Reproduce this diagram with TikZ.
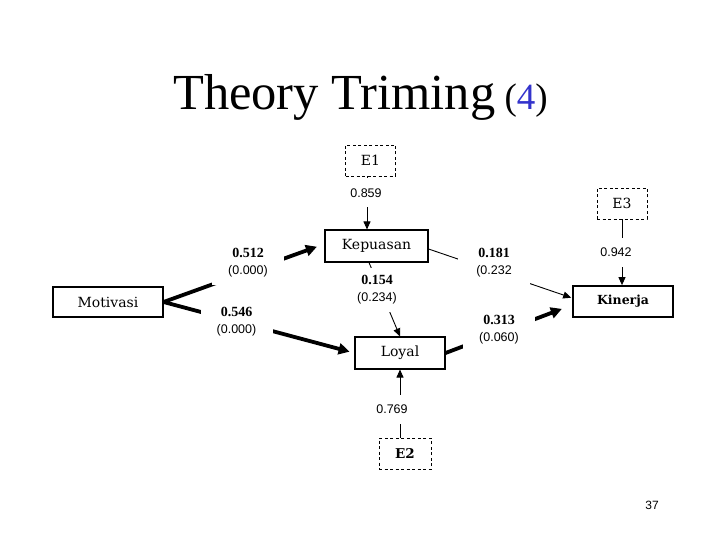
\documentclass[tikz,border=0pt]{standalone}
\usepackage{fontspec}
\setmainfont{Liberation Serif}
\newfontfamily\boxfont{DejaVu Serif}
\newfontfamily\numfont{Liberation Sans}
\usetikzlibrary{arrows.meta,calc}
\definecolor{titleblue}{RGB}{51,51,204}
\newcommand{\cfb}[2]{{\rmfamily\bfseries\fontsize{14}{17}\selectfont #1}\\#2}
\begin{document}
\begin{tikzpicture}[x=1pt,y=-1pt,
  box/.style={draw, line width=1.1pt, inner sep=0pt, font=\boxfont\fontsize{14}{16}\selectfont},
  errbox/.style={draw, dash pattern=on 3pt off 2.5pt, line width=0.9pt, inner sep=0pt, minimum width=50pt, minimum height=31pt, font=\boxfont\fontsize{14}{16}\selectfont},
  coeflab/.style={fill=white, inner sep=0pt, minimum width=72pt, minimum height=44pt, align=center, font=\numfont\fontsize{12.5}{17}\selectfont},
  errlab/.style={fill=white, inner sep=0pt, minimum width=40pt, minimum height=29pt, font=\numfont\fontsize{12.5}{14}\selectfont},
  thinarrow/.style={line width=0.9pt, -{Triangle[length=8pt,width=7pt]}},
  thickarrow/.style={line width=3.8pt, -{Triangle[length=11pt,width=11pt]}},
]
\fill[white] (0,0) rectangle (720,540);
\useasboundingbox (0,0) rectangle (720,540);

% title
\node[anchor=base, inner sep=0pt] (title) at (360.5,110) {\fontsize{50.5}{52}\selectfont Theory Triming{\fontsize{37}{40}\selectfont\ (\textcolor{titleblue}{4})}};

% boxes
\node[box, minimum width=110pt, minimum height=30pt] (mot) at (108,302) {Motivasi};
\node[box, minimum width=103pt, minimum height=32pt] (kep) at (376.5,246) {Kepuasan};
\node[box, minimum width=90pt, minimum height=32pt] (loy) at (400,353) {Loyal};
\node[box, line width=1.7pt, minimum width=100pt, minimum height=31pt, font=\boxfont\bfseries\fontsize{12.5}{16}\selectfont] (kin) at (623,301.5) {Kinerja};
\node[errbox] (e1) at (370.5,160.5) {E1};
\node[errbox] (e3) at (622,203.5) {E3};
\node[errbox, minimum width=52pt, font=\boxfont\bfseries\fontsize{13.5}{16}\selectfont] (e2) at (405,453.5) {E2};

% connectors
\draw[thinarrow] ($(e1.south)+(-3.5,0)$) -- ($(kep.north)+(-9.5,0)$);
\draw[thinarrow] (e3.south) -- (e3.south |- kin.north);
\draw[thinarrow] (e2.north -| loy.south) -- (loy.south);
\draw[thickarrow, shorten >=8pt] (mot.east) -- ($(kep.west)+(0,-2)$);
\draw[thickarrow, shorten >=5pt] (mot.east) -- (loy.west);
\draw[thinarrow, shorten >=1pt] ($(kep.east)+(0,3)$) -- ($(kin.west)+(0,-3.5)$);
\draw[thickarrow, shorten >=11pt] (loy.east) -- ($(kin.west)+(0,3.5)$);
\draw[thinarrow] ($(kep.south)+(-7.5,0)$) -- (loy.north);

% labels
\node[errlab] (l859) at (366,193) {0.859};
\node[errlab] (l942) at (616,252.5) {0.942};
\node[errlab] (l769) at (392,409) {0.769};
\node[coeflab] (l512) at (248,262.5) {\cfb{0.512}{(0.000)}};
\node[coeflab] (l546) at (236.5,321.5) {\cfb{0.546}{(0.000)}};
\node[coeflab] (l181) at (494,263) {\cfb{0.181}{(0.232}};
\node[coeflab] (l313) at (499,329.5) {\cfb{0.313}{(0.060)}};
\node[coeflab] (l154) at (377,290) {\cfb{0.154}{(0.234)}};

% page number
\node[font=\numfont\fontsize{12}{14}\selectfont] (pg) at (652,505) {37};
\end{tikzpicture}
\end{document}
